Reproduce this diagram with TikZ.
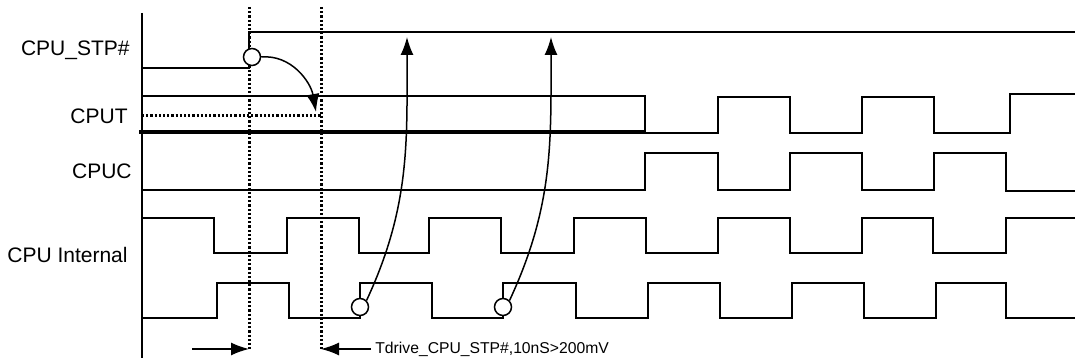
\documentclass[tikz,border=0pt]{standalone}
\usepackage{fontspec}
\setmainfont{Liberation Sans}
\usepackage{tikz}
\usetikzlibrary{arrows.meta}

\begin{document}
\begin{tikzpicture}[x=0.5pt,y=-0.5pt,
    sig/.style={line width=0.75pt},
    guide/.style={dash pattern=on 1.1pt off 1pt,line width=1.5pt},
    lbl/.style={anchor=east,inner sep=0pt,font=\fontsize{10.5}{12}\selectfont},
    ring/.style={circle,draw,fill=white,line width=0.75pt,inner sep=0pt,minimum size=8.5pt},
    cause/.style={-{Latex[length=9pt,width=6.5pt]},line width=0.75pt}]
      \useasboundingbox (0,0) rectangle (1075,362);
      % signal names
      \node[lbl] (n_stp) at (130,50) {CPU\_STP\#};
      \node[lbl] (n_cput) at (128,116) {CPUT};
      \node[lbl] (n_cpuc) at (132,171) {CPUC};
      \node[lbl] (n_int) at (128,255) {CPU Internal};
      % time axis and guides
      \draw[sig] (142,13) -- (142,358);
      \draw[guide] (249,7) -- (249,350);
      \draw[guide] (321,7) -- (321,350);
      \draw[guide] (142,116) -- (321,116);
      % waveforms
      \draw[sig] (142,68) -- (249,68) -- (249,32) -- (1075,32);
      \draw[sig] (142,96) -- (645,96) -- (645,133) -- (718,133) -- (718,97) -- (790,97)
                 -- (790,133) -- (862,133) -- (862,97) -- (934,97) -- (934,133)
                 -- (1010,133) -- (1010,94) -- (1075,94);
      \draw[line width=1.6pt] (139,132) -- (645,132);
      \draw[sig] (142,190) -- (645,190) -- (645,153) -- (718,153) -- (718,190) -- (790,190)
                 -- (790,153) -- (862,153) -- (862,190) -- (934,190) -- (934,153)
                 -- (1006,153) -- (1006,191) -- (1075,191);
      \draw[sig] (142,218) \foreach \a/\b in {214/287,359/429,501/574,646/718,790/862,933/1006}
                 { -- (\a,218) -- (\a,253) -- (\b,253) -- (\b,218) } -- (1075,218);
      \draw[sig] (142,318) \foreach \a/\b in {217/289,360/432,503/576,648/720,792/864,936/1006}
                 { -- (\a,318) -- (\a,283) -- (\b,283) -- (\b,318) } -- (1075,318);
      % causes
      \node[ring] (c_stp) at (252,57) {};
      \node[ring] (c_1) at (360,307) {};
      \node[ring] (c_2) at (503,307) {};
      \coordinate (t_stp) at (316,112);
      \coordinate (t_1) at (407,37);
      \coordinate (t_2) at (551,37);
      \draw[cause] (c_stp.east) to[out=5,in=100] (t_stp);
      \draw[cause] (c_1.north east) to[out=65,in=-90] (t_1);
      \draw[cause] (c_2.north east) to[out=65,in=-90] (t_2);
      % drive time
      \coordinate (a_in) at (192,349);
      \coordinate (a_g1) at (249,349);
      \coordinate (a_g2) at (321,349);
      \node[anchor=west,inner sep=0pt,font=\fontsize{7.85}{9}\selectfont] (tdrive) at (375,349)
           {Tdrive\_CPU\_STP\#,10nS>200mV};
      \draw[cause] (a_in) -- (a_g1);
      \draw[cause] (tdrive.west) ++(-4,0) -- (a_g2);
\end{tikzpicture}
\end{document}
